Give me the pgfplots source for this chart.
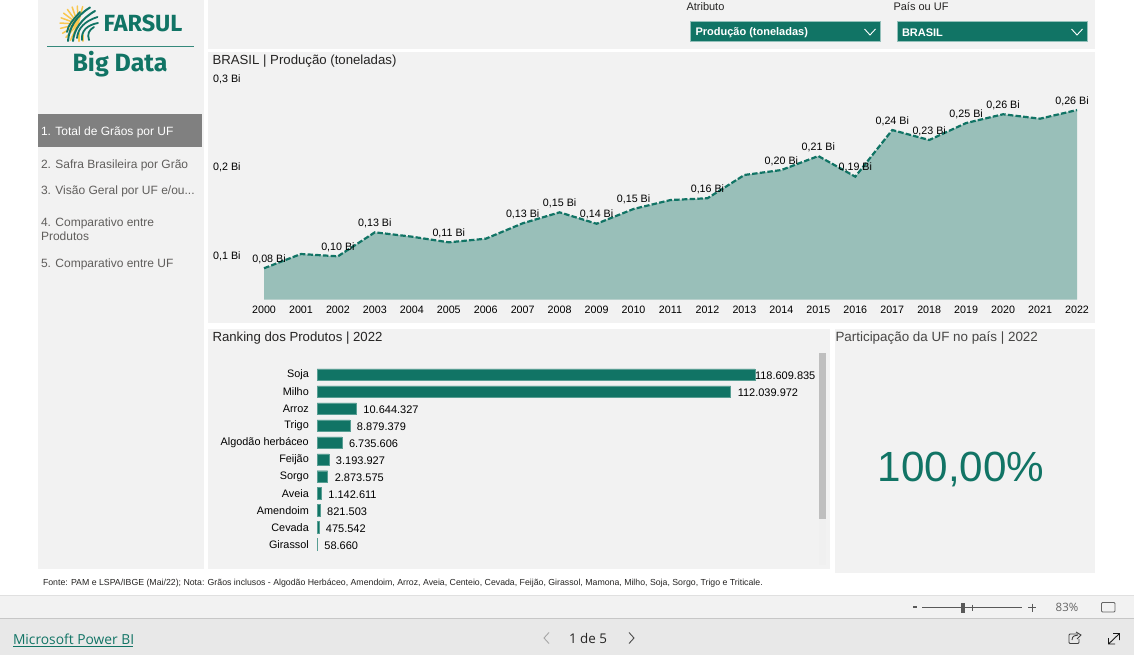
\documentclass[border=0pt]{standalone}
\usepackage{fontspec}
\setmainfont{Liberation Sans}
\newfontfamily\logofont{Fira Sans}
\newfontfamily\uifont{Open Sans}
\usepackage{pgfplots}
\usepackage{pgfplotstable}
\pgfplotsset{compat=1.18}
\definecolor{teal1}{HTML}{117465}
\definecolor{area}{HTML}{99BFB9}
\definecolor{panel}{HTML}{F2F2F2}
\definecolor{navtxt}{HTML}{605E5C}
\definecolor{ink}{HTML}{252423}
\definecolor{wheat}{HTML}{F9C74F}
\newcommand{\fs}[1]{\fontsize{#1}{#1}\selectfont}

\pgfplotstableread{
year val lbl dx
2000 0.0853 {0,08 Bi} 5
2001 0.1014 {} 0
2002 0.0988 {0,10 Bi} 0
2003 0.1259 {0,13 Bi} 0
2004 0.1210 {} 0
2005 0.1146 {0,11 Bi} 0
2006 0.1187 {} 0
2007 0.1361 {0,13 Bi} 0
2008 0.1485 {0,15 Bi} 0
2009 0.1356 {0,14 Bi} 0
2010 0.1523 {0,15 Bi} 0
2011 0.1624 {} 0
2012 0.1644 {0,16 Bi} 0
2013 0.1907 {} 0
2014 0.1963 {0,20 Bi} 0
2015 0.2121 {0,21 Bi} 0
2016 0.1888 {0,19 Bi} 0
2017 0.2415 {0,24 Bi} 0
2018 0.2302 {0,23 Bi} 0
2019 0.2494 {0,25 Bi} 0
2020 0.2593 {0,26 Bi} 0
2021 0.2543 {} 0
2022 0.2641 {0,26 Bi} -5
}\producao

\pgfplotstableread{
pos val lbl dx
0 118609835 118.609.835 -7
1 112039972 112.039.972 0
2 10644327 10.644.327 0
3 8879379 8.879.379 0
4 6735606 6.735.606 0
5 3193927 3.193.927 0
6 2873575 2.873.575 0
7 1142611 1.142.611 0
8 821503 821.503 0
9 475542 475.542 0
10 58660 58.660 0
}\ranking

\begin{document}
\begin{tikzpicture}
\useasboundingbox (0pt,0pt) rectangle (1134pt,-655pt);
\begin{scope}[x=1pt,y=-1pt,every node/.style={inner sep=0pt,outer sep=0pt}]
% page and panels
\fill[white] (0,0) rectangle (1134,655);
\fill[panel] (38,0) rectangle (203.5,569);
\fill[panel] (208,0) rectangle (1095,49);
\fill[panel] (208,52) rectangle (1095,323);
\fill[panel] (208,329) rectangle (830,569);
\fill[panel] (835,329) rectangle (1095,573);
% logo
\begin{scope}[line cap=round]
\foreach \r in {95,112,...,265}{\draw[wheat,line width=1.5pt] (78,24) -- ++(\r+20:18);}
\draw[wheat,line width=2.5pt] (79,41) -- (79,33);
\draw[wheat,line width=2pt] (83,41) -- (83,35);
\draw[teal1,line width=2pt] (68,41) .. controls (69,28) and (76,16) .. (90,7.5);
\draw[teal1,line width=2pt] (73,41) .. controls (74,30) and (81,19) .. (95,11);
\draw[teal1,line width=1.8pt] (77,38) .. controls (78,28) and (85,21) .. (97.5,17);
\draw[teal1,line width=1.8pt] (82,40) .. controls (81,31) and (87,25) .. (98,23);
\draw[teal1,line width=1.8pt] (67,32) .. controls (68,25) and (73,20) .. (80,12);
\draw[teal1,line width=1.8pt] (89,40) .. controls (87,34) and (89,30) .. (94,27);
\end{scope}
\node[anchor=west,text=teal1,font=\logofont\bfseries\fs{23.4}] at (103.5,23.5) {FARSUL};
\draw[teal1!85,line width=1pt] (47,46.5) -- (194,46.5);
\node[anchor=center,text=teal1,font=\logofont\bfseries\fs{25}] at (120,64) {Big Data};
% navigation
\fill[gray] (38,114) rectangle (202,147);
\node[anchor=west,text=white,font=\fs{12}] at (41,132) {1. Total de Grãos por UF};
\node[anchor=west,text=navtxt,font=\fs{12}] at (41,165) {2. Safra Brasileira por Grão};
\node[anchor=west,text=navtxt,font=\fs{12}] at (41,191) {3. Visão Geral por UF e/ou...};
\node[anchor=west,text=navtxt,font=\fs{12}] at (41,223) {4. Comparativo entre};
\node[anchor=west,text=navtxt,font=\fs{12}] at (41,236) {Produtos};
\node[anchor=west,text=navtxt,font=\fs{12}] at (41,264) {5. Comparativo entre UF};
% slicers
\node[anchor=west,text=ink,font=\fs{11}] at (686.5,7) {Atributo};
\node[anchor=west,text=ink,font=\fs{11}] at (893.5,7) {País ou UF};
\fill[teal1,draw=teal1!45,line width=.8pt] (690.5,21) rectangle (880,41);
\fill[teal1,draw=teal1!45,line width=.8pt] (897.5,21) rectangle (1087,41);
\node[anchor=west,text=white,font=\bfseries\fs{11}] at (695.5,33) {Produção (toneladas)};
\node[anchor=west,text=white,font=\bfseries\fs{11}] at (902,33) {BRASIL};
\draw[white,line width=.9pt] (864.5,29) -- (870,35) -- (875.5,29);
\draw[white,line width=.9pt] (1071.5,29) -- (1077,35) -- (1082.5,29);
% titles
\node[anchor=west,text=ink,font=\fs{13.2}] at (212.5,61) {BRASIL | Produção (toneladas)};
\node[anchor=west,text=ink,font=\fs{13.2}] at (212.5,338) {Ranking dos Produtos | 2022};
\node[anchor=west,text=ink!85,font=\fs{13.4}] at (835.5,338) {Participação da UF no país | 2022};
\node[anchor=center,text=teal1,font=\fs{42.2}] at (961,469) {100,00\%};
% scrollbar
\fill[gray!12] (819,353) rectangle (826,565);
\fill[gray!50] (819,353) rectangle (826,519);
% footer
\node[anchor=west,text=ink,font=\fs{8.75}] at (43,583) {Fonte: PAM e LSPA/IBGE (Mai/22); Nota: Grãos inclusos - Algodão Herbáceo, Amendoim, Arroz, Aveia, Centeio, Cevada, Feijão, Girassol, Mamona, Milho, Soja, Sorgo, Trigo e Triticale.};
\fill[black!5] (0,595) rectangle (1134,618);
\fill[black!9] (0,618) rectangle (1134,655);
\draw[black!12,line width=1pt] (0,595.5) -- (1134,595.5);
\draw[black!22,line width=1pt] (0,618.5) -- (1134,618.5);
\node[anchor=west,text=teal1,font=\uifont\fs{13.8}] at (13,639) {Microsoft Power BI};
\draw[teal1,line width=.8pt] (13,646) -- (133,646);
\node[anchor=center,text=ink,font=\uifont\fs{13.4}] at (588,638) {1 de 5};
\draw[black!35,line width=.9pt] (549,632.5) -- (544,638) -- (549,643.5);
\draw[black!70,line width=.9pt] (629,632.5) -- (634,638) -- (629,643.5);
\draw[black!65,line width=1.4pt] (913,607) -- (917,607);
\draw[black!65,line width=.9pt] (922,607.5) -- (1022,607.5);
\fill[black!65] (961,603) rectangle (965,613);
\draw[black!65,line width=.6pt] (972.5,604.5) -- (972.5,610.5);
\draw[black!65,line width=1pt] (1032,603.5) -- (1032,611.5) (1028,607.5) -- (1036,607.5);
\node[anchor=center,text=black!60,font=\uifont\fs{11.5}] at (1067,607) {83\%};
\draw[black!60,line width=.8pt,rounded corners=1pt] (1101.5,602.5) rectangle (1115,612);
\draw[black!75,line width=.9pt,rounded corners=1pt] (1078,634) -- (1069,634) -- (1069,643.5) -- (1079,643.5) -- (1079,639);
\draw[black!75,line width=.9pt] (1072,640) .. controls (1072,636) and (1075,635) .. (1078,635) (1076,632) -- (1081,635) -- (1077,639);
\draw[black!90,line width=.9pt] (1108.5,644) -- (1119.5,633.5) (1113,633.5) -- (1119.5,633.5) -- (1119.5,640) (1108.5,638) -- (1108.5,644) -- (1115,644);
\end{scope}

% evolution chart
\begin{axis}[
    at={(264pt,-299.5pt)}, anchor=south west,
    scale only axis, width=813pt, height=221.25pt,
    xmin=2000, xmax=2022, ymin=0.05, ymax=0.3,
    clip=false,
    axis line style={draw=none},
    major tick length=0pt,
    xtick={2000,2001,...,2022},
    xticklabel style={font=\fs{10.7},text=black,inner sep=0pt,/pgf/number format/1000 sep={},/pgf/number format/assume math mode=true,yshift=-6pt},
    ytick={0.1,0.2,0.3},
    yticklabels={{0,1 Bi},{0,2 Bi},{0,3 Bi}},
    yticklabel style={font=\fs{10.7},text=black,anchor=west,inner sep=0pt,xshift=-51pt,yshift=-.8pt},
    visualization depends on={\thisrow{dx} \as \lbldx},
]
\addplot[fill=area,draw=none] table[x=year,y=val] {\producao} \closedcycle;
\addplot[teal1,line width=2.2pt,dash pattern=on 5.5pt off 2.2pt] table[x=year,y=val] {\producao};
\addplot[draw=none,
    point meta=explicit symbolic,
    nodes near coords,
    nodes near coords style={font=\fs{10.7},text=black,anchor=center,inner sep=0pt,xshift=\lbldx pt,yshift=9.2pt},
] table[x=year,y=val,meta=lbl] {\producao};
\end{axis}

% ranking bars
\begin{axis}[
    at={(317pt,-544.3pt)}, anchor=south west,
    scale only axis, width=437.8pt, height=169.6pt,
    xbar, bar width=11.5pt, bar shift=0pt,
    xmin=0, xmax=118609835, ymin=0, ymax=10,
    y dir=reverse,
    clip=false,
    axis line style={draw=none},
    major tick length=0pt,
    xtick=\empty,
    ytick={0,1,...,10},
    yticklabels={Soja,Milho,Arroz,Trigo,Algodão herbáceo,Feijão,Sorgo,Aveia,Amendoim,Cevada,Girassol},
    yticklabel style={font=\fs{10.85},text=black,inner sep=0pt,xshift=-8pt,yshift=-.3pt},
    visualization depends on={\thisrow{dx} \as \lbldx},
]
\addplot[fill=teal1,draw=teal1!70,line width=.4pt,
    point meta=explicit symbolic,
    nodes near coords,
    nodes near coords style={font=\fs{11},text=black,anchor=west,inner sep=0pt,xshift=7pt+\lbldx pt,yshift=-1.2pt},
] table[x=val,y=pos,meta=lbl] {\ranking};
\end{axis}
\end{tikzpicture}
\end{document}
